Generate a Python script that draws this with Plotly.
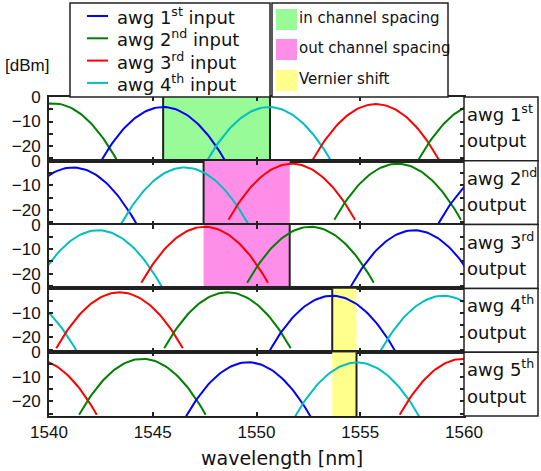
import plotly.graph_objects as go

# ---------------------------------------------------------------- data
WL_RANGE = [1540, 1560]          # nm
DB_RANGE = [-26, 0]              # dBm
X_TICKS = [1540, 1545, 1550, 1555, 1560]
Y_TICKS = [0, -5, -10, -15, -20, -25]
Y_TICK_TEXT = ["0", "", "\u221210", "", "\u221220", ""]

INPUT_LABELS = ["awg 1<sup>st</sup> input", "awg 2<sup>nd</sup> input",
                "awg 3<sup>rd</sup> input", "awg 4<sup>th</sup> input"]
INPUT_COLORS = ["#0000ff", "#008000", "#ff0000", "#00bfbf"]
OUTPUT_LABELS = ["awg 1<sup>st</sup>", "awg 2<sup>nd</sup>", "awg 3<sup>rd</sup>",
                 "awg 4<sup>th</sup>", "awg 5<sup>th</sup>"]

# passbands seen at every output: input index (0..3), centre [nm], peak [dBm]
out1_input = [1, 0, 3, 2, 1]
out1_center = [1540.2, 1545.5, 1550.6, 1555.75, 1560.87]
out1_peak = [-2.6, -4.1, -4.1, -2.9, -2.6]

out2_input = [0, 3, 2, 1, 0]
out2_center = [1541.15, 1546.54, 1551.7, 1556.8, 1561.82]
out2_peak = [-2.7, -2.7, -1.2, -1.2, -2.7]

out3_input = [0, 3, 2, 1, 0]
out3_center = [1536.95, 1542.37, 1547.5, 1552.6, 1557.6]
out3_peak = [-2.3, -2.3, -0.9, -0.9, -2.3]

out4_input = [3, 2, 1, 0, 3]
out4_center = [1538.3, 1543.4, 1548.6, 1553.65, 1559.0]
out4_peak = [-3.0, -1.6, -1.6, -3.0, -3.0]

out5_input = [2, 1, 0, 3, 2]
out5_center = [1539.25, 1544.5, 1549.6, 1554.85, 1559.95]
out5_peak = [-2.7, -2.7, -4.1, -4.2, -2.7]

OUTPUTS = [
    (out1_input, out1_center, out1_peak),
    (out2_input, out2_center, out2_peak),
    (out3_input, out3_center, out3_peak),
    (out4_input, out4_center, out4_peak),
    (out5_input, out5_center, out5_peak),
]

ROLLOFF = 2.45       # dB / nm^2 (Gaussian passband -> parabola in dB)
HALF_SPAN = 3.05     # nm either side of the channel centre
N_PTS = 61

# highlighted spans: (output panel index, start nm, end nm, colour, marker lines at)
LEGEND2_LABELS = ["in channel spacing", "out channel spacing", "Vernier shift"]
LEGEND2_COLORS = ["#98fb98", "#ff8ee8", "#ffff8c"]
SPANS = [
    (0, 1545.5, 1550.65, LEGEND2_COLORS[0], [1545.5, 1550.65]),
    (1, 1547.45, 1551.6, LEGEND2_COLORS[1], [1547.45]),
    (2, 1547.45, 1551.6, LEGEND2_COLORS[1], [1551.6]),
    (3, 1553.65, 1554.82, LEGEND2_COLORS[2], [1553.65]),
    (4, 1553.65, 1554.82, LEGEND2_COLORS[2], [1554.82]),
]

# ---------------------------------------------------------------- layout helpers
W, H = 541, 471
PLOT_L, PLOT_R = 49, 464
PANEL_TOP, PANEL_H = 97, 63.8
LABEL_R = 538
AXIS_COLOR = "#222222"
NARROW = "Liberation Sans Narrow, Liberation Sans, Arial"
TICK_FONT = dict(family=NARROW, size=17, color="#111")
TEXT_FONT = "DejaVu Sans"


def px(x):
    return x / W


def py(y):
    return 1 - y / H


fig = go.Figure()
layout = dict(
    width=W, height=H, autosize=False,
    margin=dict(l=0, r=0, t=0, b=0, pad=0),
    paper_bgcolor="white", plot_bgcolor="white",
    showlegend=False,
)
shapes = []
annotations = []

for i, (inp, cen, pk) in enumerate(OUTPUTS):
    n = i + 1
    top = PANEL_TOP + i * PANEL_H
    bot = top + PANEL_H
    xa = "xaxis" if n == 1 else f"xaxis{n}"
    ya = "yaxis" if n == 1 else f"yaxis{n}"
    xr = "x" if n == 1 else f"x{n}"
    yr = "y" if n == 1 else f"y{n}"

    layout[xa] = dict(
        domain=[px(PLOT_L), px(PLOT_R)], anchor=yr, range=WL_RANGE, automargin=False,
        tickvals=X_TICKS, ticks="inside", ticklen=4, tickwidth=2, tickcolor=AXIS_COLOR,
        showline=True, linecolor=AXIS_COLOR, linewidth=2, mirror="allticks",
        showgrid=False, zeroline=False, showticklabels=(n == 5),
        tickfont=TICK_FONT, ticklabelstandoff=0,
    )
    layout[ya] = dict(
        domain=[py(bot), py(top)], anchor=xr, range=DB_RANGE, automargin=False,
        tickvals=Y_TICKS, ticktext=Y_TICK_TEXT,
        ticks="inside", ticklen=4, tickwidth=2, tickcolor=AXIS_COLOR,
        showline=True, linecolor=AXIS_COLOR, linewidth=2, mirror="allticks",
        showgrid=False, zeroline=False, tickfont=TICK_FONT, ticklabelstandoff=3,
    )

    # passband curves
    for k, c, p in zip(inp, cen, pk):
        xs = [c - HALF_SPAN + 2 * HALF_SPAN * j / (N_PTS - 1) for j in range(N_PTS)]
        ys = [p - ROLLOFF * (x - c) ** 2 for x in xs]
        fig.add_trace(go.Scatter(
            x=xs, y=ys, mode="lines", xaxis=xr, yaxis=yr,
            line=dict(color=INPUT_COLORS[k], width=2), hoverinfo="skip",
        ))

    # output label box on the right
    shapes.append(dict(type="rect", xref="paper", yref="paper",
                       x0=px(PLOT_R), x1=px(LABEL_R), y0=py(bot), y1=py(top),
                       line=dict(color=AXIS_COLOR, width=1.5), fillcolor="white"))
    annotations.append(dict(text=OUTPUT_LABELS[i], xref="paper", yref="paper",
                            x=px(PLOT_R + 1), y=py(top + 16), xanchor="left", yanchor="middle",
                            showarrow=False, font=dict(family=TEXT_FONT, size=18, color="#111")))
    annotations.append(dict(text="output", xref="paper", yref="paper",
                            x=px(PLOT_R + 1), y=py(top + 44), xanchor="left", yanchor="middle",
                            showarrow=False, font=dict(family=TEXT_FONT, size=18, color="#111")))

# shaded spans and their marker lines
for (i, x0, x1, col, marks) in SPANS:
    n = i + 1
    xr = "x" if n == 1 else f"x{n}"
    yr = "y" if n == 1 else f"y{n}"
    shapes.append(dict(type="rect", xref=xr, yref=yr, x0=x0, x1=x1,
                       y0=DB_RANGE[0], y1=DB_RANGE[1], fillcolor=col,
                       line=dict(width=0), layer="below"))
    for m in marks:
        shapes.append(dict(type="line", xref=xr, yref=yr, x0=m, x1=m,
                           y0=DB_RANGE[0], y1=DB_RANGE[1],
                           line=dict(color=AXIS_COLOR, width=2), layer="below"))

# legend for the four inputs
shapes.append(dict(type="rect", xref="paper", yref="paper",
                   x0=px(70), x1=px(270), y0=py(97), y1=py(3),
                   line=dict(color=AXIS_COLOR, width=1.5), fillcolor="white"))
for r, (lab, col) in enumerate(zip(INPUT_LABELS, INPUT_COLORS)):
    yc = 16 + r * 22.3
    shapes.append(dict(type="line", xref="paper", yref="paper",
                       x0=px(87), x1=px(108), y0=py(yc), y1=py(yc),
                       line=dict(color=col, width=2)))
    annotations.append(dict(text=lab, xref="paper", yref="paper",
                            x=px(115), y=py(yc), xanchor="left", yanchor="middle",
                            showarrow=False, font=dict(family=TEXT_FONT, size=18, color="#111")))

# legend for the highlighted spans
shapes.append(dict(type="rect", xref="paper", yref="paper",
                   x0=px(272), x1=px(448), y0=py(97), y1=py(3),
                   line=dict(color=AXIS_COLOR, width=1.5), fillcolor="white"))
for r, (lab, col) in enumerate(zip(LEGEND2_LABELS, LEGEND2_COLORS)):
    yt = [9, 39, 70][r]
    shapes.append(dict(type="rect", xref="paper", yref="paper",
                       x0=px(276), x1=px(297), y0=py(yt + 21), y1=py(yt),
                       line=dict(width=0), fillcolor=col))
    annotations.append(dict(text=lab, xref="paper", yref="paper",
                            x=px(297), y=py(yt + 9), xanchor="left", yanchor="middle",
                            showarrow=False, font=dict(family=TEXT_FONT, size=15, color="#111")))

# axis titles
annotations.append(dict(text="[dBm]", xref="paper", yref="paper", x=px(27), y=py(66),
                        xanchor="center", yanchor="middle", showarrow=False,
                        font=dict(family=NARROW, size=17, color="#111")))
annotations.append(dict(text="wavelength [nm]", xref="paper", yref="paper", x=px(282), y=py(458),
                        xanchor="center", yanchor="middle", showarrow=False,
                        font=dict(family=TEXT_FONT, size=19, color="#111")))

layout["shapes"] = shapes
layout["annotations"] = annotations
fig.update_layout(**layout)
fig.write_html("out.html")
